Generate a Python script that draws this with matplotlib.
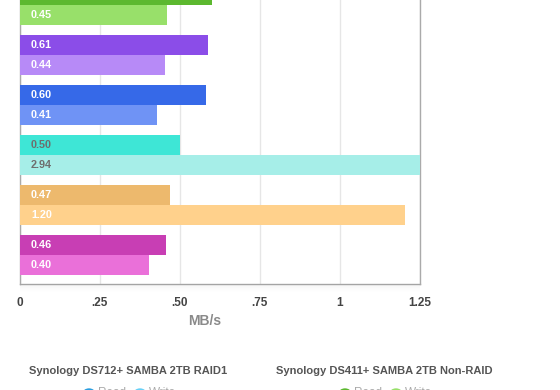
import matplotlib
matplotlib.use("Agg")
import matplotlib.pyplot as plt
from matplotlib.patches import Rectangle, Circle

# ---- data (top to bottom) ----
devices = ["Synology DS712+ SAMBA 2TB RAID1", "Synology DS411+ SAMBA 2TB Non-RAID",
           "NAS 3", "NAS 4", "NAS 5", "NAS 6", "NAS 7"]
read_vals = [0.62, 0.60, 0.5875, 0.581, 0.50, 0.469, 0.456]
write_vals = [0.47, 0.461, 0.453, 0.428, 2.94, 1.206, 0.403]
read_labels = ["0.62", "0.60", "0.61", "0.60", "0.50", "0.47", "0.46"]
write_labels = ["0.47", "0.45", "0.44", "0.41", "2.94", "1.20", "0.40"]
read_colors = ["#2a9ee0", "#5cb82f", "#8b4de8", "#3669e8", "#3ee6d6", "#edb96d", "#c83eb4"]
write_colors = ["#67d0f7", "#98e06a", "#b78af7", "#6f93f5", "#a6eee8", "#ffd18c", "#ea70d9"]
label_colors = ["white", "white", "white", "white", "#6e6e6e", "white", "white"]
xticks = [0, 0.25, 0.5, 0.75, 1.0, 1.25]
xtick_labels = ["0", ".25", ".50", ".75", "1", "1.25"]
legend_groups = [("Synology DS712+ SAMBA 2TB RAID1", "#2a9ee0", "#67d0f7"),
                 ("Synology DS411+ SAMBA 2TB Non-RAID", "#5cb82f", "#98e06a")]

W, H = 560, 390
plt.rcParams['font.family'] = ['Liberation Sans', 'DejaVu Sans']
fig = plt.figure(figsize=(W / 100, H / 100), dpi=100)
fig.patch.set_facecolor("white")

ax_bottom_px = 284.3
ax_h_px = 358.6
ax = fig.add_axes([20 / W, (H - ax_bottom_px) / H, 399.5 / W, ax_h_px / H])

n = len(devices)
pos = list(range(n))
bh = 0.4
ax.barh([p - bh / 2 for p in pos], read_vals, height=bh, color=read_colors, zorder=3)
ax.barh([p + bh / 2 for p in pos], write_vals, height=bh, color=write_colors, zorder=3)

ax.set_xlim(0, 1.25)
ax.set_ylim(n - 1 + 0.586, -0.586)

# value labels (only those that fall inside the visible canvas)
y_top_visible = -0.586 + ax_h_px and None
for p, rl, wl, lc in zip(pos, read_labels, write_labels, label_colors):
    for yy, lab in [(p - bh / 2, rl), (p + bh / 2, wl)]:
        # convert data y to pixel distance from figure top
        frac = (yy - (-0.586)) / (n - 1 + 0.586 - (-0.586))
        px_from_top = ax_bottom_px - ax_h_px + frac * ax_h_px
        if px_from_top < 6:
            continue
        ax.annotate(lab, (0, yy), xytext=(8, 0), textcoords="offset points",
                    ha="left", va="center", color=lc, fontsize=7.8,
                    fontweight="bold", zorder=4)

ax.set_xticks(xticks)
ax.set_xticklabels(xtick_labels, fontsize=8.5, fontweight="bold", color="#444444")
ax.set_yticks([])
ax.tick_params(axis="x", length=0, pad=9)
ax.grid(axis="x", color="#e6e6e6", linewidth=1, zorder=0)
for s in ["left", "right", "bottom"]:
    ax.spines[s].set_color("#aaaaaa")
    ax.spines[s].set_linewidth(1)
ax.spines["top"].set_visible(False)
ax.set_facecolor("white")

# shadow under the plot frame
for i in range(8):
    fig.patches.append(Rectangle((20 / W, (H - ax_bottom_px - 1 - i) / H), 400 / W, 1 / H,
                                 transform=fig.transFigure, color="#000000",
                                 alpha=0.035 * (1 - i / 8), lw=0, zorder=0))

fig.text(205 / W, 1 - 321 / H, "MB/s", ha="center", va="center",
         fontsize=10, fontweight="bold", color="#8a8a8a")

# legends
centers = [128, 384]
for (title, rc, wc), cx in zip(legend_groups, centers):
    fig.text(cx / W, 1 - 371 / H, title, ha="center", va="center",
             fontsize=8, fontweight="bold", color="#555555")
    for dx, col, lab in [(-39, rc, "Read"), (12, wc, "Write")]:
        fig.patches.append(Circle(((cx + dx) / W, 1 - 392.5 / H), 6 / W,
                                  transform=fig.transFigure, color=col, lw=0))
        fig.text((cx + dx + 9) / W, 1 - 393 / H, lab, ha="left", va="center",
                 fontsize=8.5, color="#aaaaaa")

fig.savefig("out.png", dpi=100)
